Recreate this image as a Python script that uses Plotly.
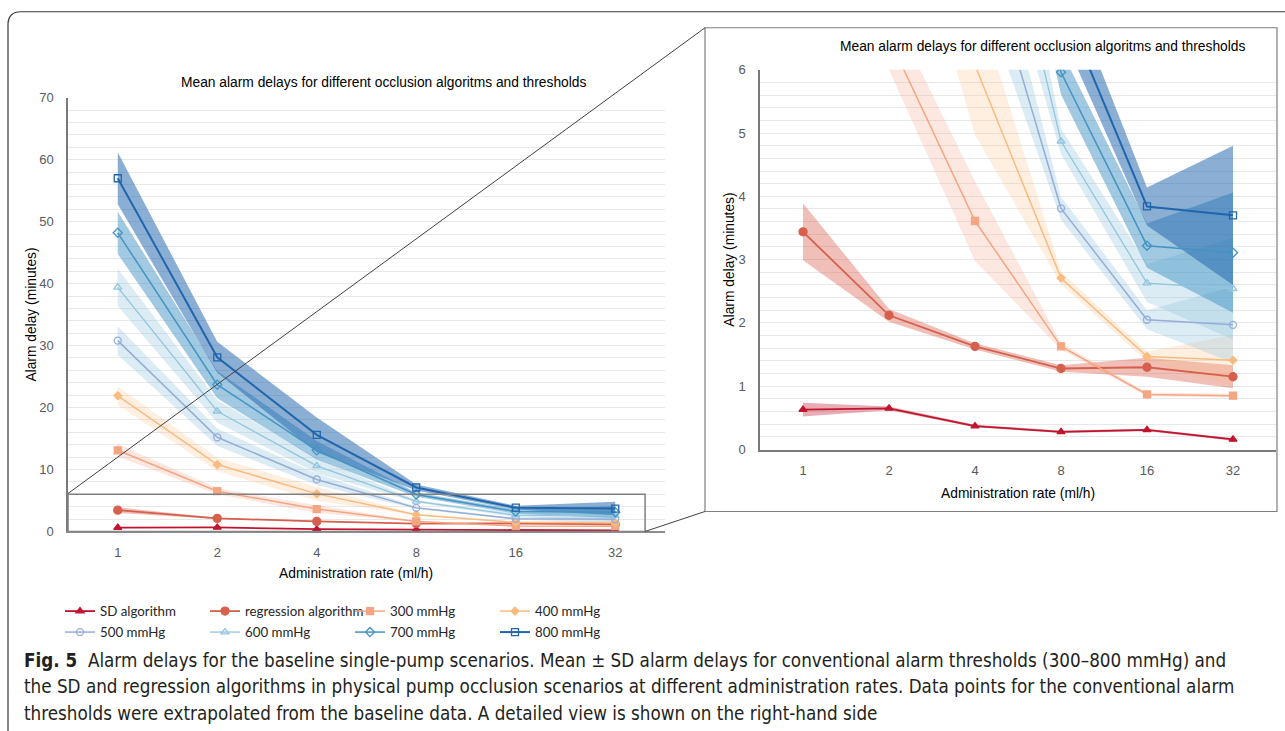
import plotly.graph_objects as go

W, H = 1285, 731

rates = ['1', '2', '4', '8', '16', '32']

series_names = ['SD algorithm', 'regression algorithm', '300 mmHg', '400 mmHg',
                '500 mmHg', '600 mmHg', '700 mmHg', '800 mmHg']

sd_alg_mean = [0.63, 0.65, 0.37, 0.28, 0.31, 0.16]
sd_alg_sd = [0.11, 0.03, 0.02, 0.02, 0.02, 0.02]
reg_mean = [3.44, 2.12, 1.63, 1.28, 1.30, 1.15]
reg_sd = [0.45, 0.10, 0.05, 0.05, 0.15, 0.18]
p300_mean = [13.1, 6.5, 3.61, 1.63, 0.87, 0.85]
p300_sd = [1.0, 0.5, 0.63, 0.05, 0.03, 0.03]
p400_mean = [21.9, 10.8, 6.07, 2.71, 1.47, 1.41]
p400_sd = [1.5, 1.1, 1.1, 0.1, 0.08, 0.4]
p500_mean = [30.8, 15.2, 8.4, 3.81, 2.05, 1.97]
p500_sd = [2.3, 1.4, 0.9, 0.18, 0.15, 0.6]
p600_mean = [39.4, 19.4, 10.6, 4.87, 2.63, 2.54]
p600_sd = [3.0, 1.8, 1.2, 0.2, 0.3, 0.8]
p700_mean = [48.2, 23.7, 13.1, 5.96, 3.22, 3.11]
p700_sd = [3.4, 2.2, 1.5, 0.35, 0.35, 0.95]
p800_mean = [57.0, 28.1, 15.6, 7.1, 3.84, 3.70]
p800_sd = [4.2, 2.5, 2.8, 0.5, 0.3, 1.1]

means = [sd_alg_mean, reg_mean, p300_mean, p400_mean, p500_mean, p600_mean, p700_mean, p800_mean]
sds = [sd_alg_sd, reg_sd, p300_sd, p400_sd, p500_sd, p600_sd, p700_sd, p800_sd]

line_colors = ['#c0152f', '#d6604d', '#f4a582', '#f9bb7f', '#95acd9', '#92c5de', '#4393c3', '#2166ac']
band_colors = ['rgba(192,21,47,0.35)', 'rgba(214,96,77,0.40)', 'rgba(244,165,130,0.25)',
               'rgba(253,180,120,0.22)', 'rgba(146,197,222,0.33)', 'rgba(146,197,222,0.33)',
               'rgba(67,147,195,0.50)', 'rgba(33,102,172,0.52)']
symbols = ['triangle-up', 'circle', 'square', 'diamond', 'circle-open', 'triangle-up-open',
           'diamond-open', 'square-open']
msizes = [7, 8, 7, 6, 7, 7, 7, 7]
lwidths = [1.8, 1.8, 1.5, 1.5, 1.5, 1.3, 1.5, 2.0]

caption_lines = [
    '<b>Fig. 5</b>  Alarm delays for the baseline single-pump scenarios. Mean ± SD alarm delays for conventional alarm thresholds (300–800 mmHg) and',
    'the SD and regression algorithms in physical pump occlusion scenarios at different administration rates. Data points for the conventional alarm',
    'thresholds were extrapolated from the baseline data. A detailed view is shown on the right-hand side',
]
chart_title = 'Mean alarm delays for different occlusion algoritms and thresholds'
x_title = 'Administration rate (ml/h)'
y_title = 'Alarm delay (minutes)'

idx = list(range(len(rates)))

# the capture maps layout pixel y to screen y as 7.24 + 0.98*y; compensate
VS, VO = 0.98, 7.24


def px(x):
    return x / W


def py(y):
    return 1 - ((y - VO) / VS) / H


fig = go.Figure()

for axis_id, (xa, ya) in enumerate([('x', 'y'), ('x2', 'y2')]):
    # bands
    for i in range(len(series_names)):
        upper = [m + s for m, s in zip(means[i], sds[i])]
        lower = [m - s for m, s in zip(means[i], sds[i])]
        fig.add_trace(go.Scatter(
            x=idx + idx[::-1], y=upper + lower[::-1], fill='toself',
            fillcolor=band_colors[i], line=dict(width=0), mode='lines',
            hoverinfo='skip', showlegend=False, xaxis=xa, yaxis=ya))
    # lines
    for i in range(len(series_names)):
        fig.add_trace(go.Scatter(
            x=idx, y=means[i], mode='lines+markers', name=series_names[i],
            line=dict(color=line_colors[i], width=lwidths[i]),
            marker=dict(symbol=symbols[i], size=msizes[i], color=line_colors[i],
                        line=dict(color=line_colors[i], width=1.3)),
            showlegend=(axis_id == 0),
            legend='legend' if i < 4 else 'legend2',
            xaxis=xa, yaxis=ya))

tickfont = dict(family='Liberation Sans, Arial', size=13, color='#595959')
grid = '#e8e8e8'
legfont = dict(family='Lato, Liberation Sans', size=13.3, color='#262626')
TS = 13.8

fig.update_layout(
    width=W, height=H, autosize=False,
    margin=dict(l=0, r=0, t=0, b=0),
    paper_bgcolor='white', plot_bgcolor='white',
    font=dict(family='Liberation Sans, Arial', size=12, color='#000000'),
    xaxis=dict(domain=[px(68), px(665)], range=[-0.5, 5.5], tickvals=idx, ticktext=rates,
               showgrid=False, zeroline=False, showline=True, linecolor='#8c8c8c', linewidth=1.5,
               ticks='', tickfont=tickfont, ticklabelstandoff=8, anchor='y'),
    yaxis=dict(domain=[py(532), py(98)], range=[0, 70], dtick=10, showgrid=True, gridcolor=grid,
               minor=dict(dtick=2, showgrid=True, gridcolor=grid), zeroline=False,
               showline=True, linecolor='#7a7a7a', linewidth=1.5, ticks='', tickfont=tickfont,
               ticklabelstandoff=10, anchor='x'),
    xaxis2=dict(domain=[px(760), px(1276)], range=[-0.5, 5.5], tickvals=idx, ticktext=rates,
                showgrid=False, zeroline=False, showline=True, linecolor='#7a7a7a', linewidth=1.5,
                ticks='', tickfont=tickfont, ticklabelstandoff=8, anchor='y2'),
    yaxis2=dict(domain=[py(450), py(70)], range=[0, 6], dtick=1, showgrid=True, gridcolor=grid,
                minor=dict(dtick=0.2, showgrid=True, gridcolor=grid), zeroline=False,
                showline=True, linecolor='#7a7a7a', linewidth=1.5, ticks='', tickfont=tickfont,
                ticklabelstandoff=10, anchor='x2'),
    legend=dict(orientation='h', x=px(60), y=py(612), xanchor='left', yanchor='middle',
                entrywidth=100, bgcolor='rgba(0,0,0,0)', traceorder='normal', font=legfont),
    legend2=dict(orientation='h', x=px(60), y=py(633), xanchor='left', yanchor='middle',
                 entrywidth=100, bgcolor='rgba(0,0,0,0)', traceorder='normal', font=legfont),
)

# frame and zoom shapes
frame_col = '#3a3a3a'
r = 13
frame_path = (f'M {px(8)},{py(H + 10)} L {px(8)},{py(12 + r)} '
              f'Q {px(8)},{py(12)} {px(8 + r)},{py(12)} L {px(W + 5)},{py(12)}')
fig.add_shape(type='path', path=frame_path, xref='paper', yref='paper',
              line=dict(color=frame_col, width=1.2))

box_col = '#7f7f7f'
fig.add_shape(type='rect', xref='paper', yref='paper', x0=px(705), x1=px(1277), y0=py(512), y1=py(28),
              line=dict(color=box_col, width=1.2), fillcolor='rgba(0,0,0,0)', layer='below')
fig.add_shape(type='rect', xref='x', yref='y', x0=-0.5, x1=5.3, y0=0, y1=6,
              line=dict(color=box_col, width=1.5), fillcolor='rgba(0,0,0,0)')
fig.add_shape(type='line', xref='paper', yref='paper', x0=px(68), y0=py(494), x1=px(705), y1=py(28),
              line=dict(color='#404040', width=1))
fig.add_shape(type='line', xref='paper', yref='paper', x0=px(645), y0=py(532), x1=px(705), y1=py(512),
              line=dict(color='#404040', width=1))


def ann(text, x, y, size=12.5, angle=0, family='Liberation Sans, Arial', color='#000000',
        xanchor='center'):
    fig.add_annotation(text=text, x=px(x), y=py(y), xref='paper', yref='paper', showarrow=False,
                       xanchor=xanchor, yanchor='middle', textangle=angle,
                       font=dict(family=family, size=size, color=color))


ann(chart_title, 384, 83, TS)
ann(chart_title, 1043, 47, TS)
ann(x_title, 356, 574, TS)
ann(x_title, 1018, 494, TS)
ann(y_title, 32, 315, TS, angle=-90)
ann(y_title, 730, 260, TS, angle=-90)

cap_y = [661, 687, 714]
for line, yy in zip(caption_lines, cap_y):
    ann(line, 22, yy, 18.7, family='DejaVu Sans Condensed, Liberation Sans',
        color='#231f20', xanchor='left')

post = ("var d=document.getElementById('{plot_id}');"
        "d.style.position='fixed';d.style.top='0px';d.style.left='0px';"
        "document.body.style.margin='0px';document.body.style.overflow='hidden';"
        "document.documentElement.style.overflow='hidden';")
fig.write_html('out.html', config={'displayModeBar': False}, post_script=post)
